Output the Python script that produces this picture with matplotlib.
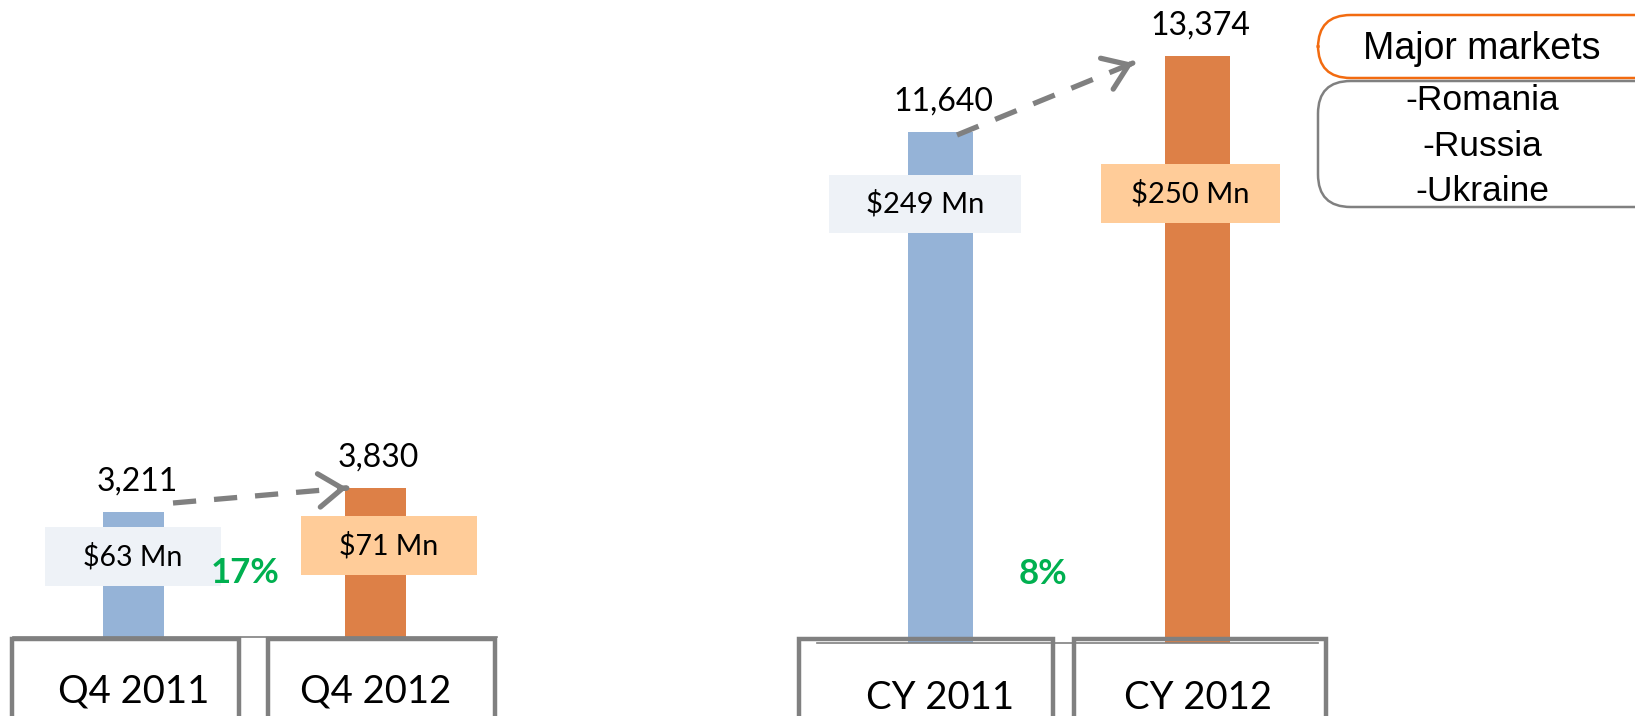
import matplotlib
matplotlib.use("Agg")
import matplotlib.pyplot as plt
from matplotlib.patches import Rectangle, FancyBboxPatch, FancyArrowPatch
from matplotlib.lines import Line2D
from matplotlib.transforms import blended_transform_factory

# ---------------- data ----------------
q_categories = ["Q4 2011", "Q4 2012"]
q_volumes = [3211, 3830]
q_revenue = ["$63 Mn", "$71 Mn"]
q_growth = "17%"

cy_categories = ["CY 2011", "CY 2012"]
cy_volumes = [11640, 13374]
cy_revenue = ["$249 Mn", "$250 Mn"]
cy_growth = "8%"

legend_title = "Major markets"
legend_items = ["-Romania", "-Russia", "-Ukraine"]

# ---------------- style ----------------
W, H = 1635, 716
DPI = 100
BLUE = "#95B3D7"
ORANGE = "#DD8047"
BLUE_BOX = "#EEF2F7"
ORANGE_BOX = "#FFCC99"
GRAY = "#808080"
GREEN = "#00B050"
LEG_ORANGE = "#F26B10"
NUM_FONT = ["Lato", "DejaVu Sans"]
ARIAL = ["Liberation Sans", "DejaVu Sans"]

fig = plt.figure(figsize=(W / DPI, H / DPI), dpi=DPI)


def fx(x):
    return x / W


def fy(y):
    return 1 - y / H


def add_panel(left_px, right_px, base_px, px_per_unit):
    ax = fig.add_axes([fx(left_px), fy(base_px), (right_px - left_px) / W, base_px / H])
    ax.set_xlim(-0.5, 1.5)
    ax.set_ylim(0, base_px / px_per_unit)
    ax.axis("off")
    return ax


ax1 = add_panel(12.5, 496.5, 637, 0.0390)
ax2 = add_panel(812, 1326, 643, 0.0439)


def draw_panel(ax, cats, vals, box_x, box_top_px, label_y_px, thin_line):
    x = list(range(len(cats)))
    ax.bar(x, vals, width=0.25, color=[BLUE, ORANGE], zorder=2)
    for i, v in zip(x, vals):
        ax.annotate(f"{v:,}", (i, v), xytext=(3 if i == 0 and ax is ax1 else 2, 22),
                    textcoords="offset points", ha="center", va="center",
                    fontsize=23, family=NUM_FONT, color="black")
    tr = blended_transform_factory(ax.transData, fig.transFigure)
    if thin_line is not None:
        ax.add_line(Line2D([thin_line[0], thin_line[1]], [0, 0], color=GRAY, lw=1.2,
                           transform=blended_transform_factory(ax.transData, ax.transAxes),
                           clip_on=False, zorder=3))
    for (x0, x1), cat, i in zip(box_x, cats, x):
        r = Rectangle((x0, fy(H + 40)), x1 - x0, fy(box_top_px) - fy(H + 40),
                      transform=tr, fill=False, edgecolor=GRAY, lw=3.2,
                      clip_on=False, zorder=4, joinstyle="miter")
        ax.add_patch(r)
        ax.text(i, fy(label_y_px), cat, transform=tr, ha="center", va="center",
                fontsize=27.5, family=NUM_FONT, color="black")


draw_panel(ax1, q_categories, q_volumes,
           [(-0.502, 0.436), (0.556, 1.494)], 639, 691, (-0.5, 1.5))
draw_panel(ax2, cy_categories, cy_volumes,
           [(-0.55, 0.438), (0.52, 1.5)], 639, 698, (-0.48, 1.47))


# revenue boxes (figure pixel layout)
def rev_box(x0, y0, x1, y1, text, color, fs):
    fig.patches.append(Rectangle((fx(x0), fy(y1)), (x1 - x0) / W, (y1 - y0) / H,
                                 transform=fig.transFigure, facecolor=color,
                                 edgecolor="none", zorder=5))
    fig.text(fx((x0 + x1) / 2), fy((y0 + y1) / 2), text, ha="center", va="center",
             fontsize=fs, family=NUM_FONT, color="black", zorder=6)


rev_box(45, 527, 221, 586, q_revenue[0], BLUE_BOX, 20.5)
rev_box(301, 516, 477, 575, q_revenue[1], ORANGE_BOX, 20.5)
rev_box(829, 175, 1021, 233, cy_revenue[0], BLUE_BOX, 21)
rev_box(1101, 164, 1280, 223, cy_revenue[1], ORANGE_BOX, 21)

# growth labels
fig.text(fx(245), fy(573), q_growth, ha="center", va="center", fontsize=25,
         fontweight="bold", family=NUM_FONT, color=GREEN, zorder=10)
fig.text(fx(1043), fy(574), cy_growth, ha="center", va="center", fontsize=25,
         fontweight="bold", family=NUM_FONT, color=GREEN, zorder=10)


# dashed growth arrows
def growth_arrow(x0, y0, x1, y1):
    lw = 3.8
    fig.add_artist(Line2D([fx(x0), fx(x1)], [fy(y0), fy(y1)], transform=fig.transFigure,
                          color=GRAY, lw=lw, linestyle=(0, (4.4, 3.4)),
                          solid_capstyle="butt", dash_capstyle="butt", zorder=7))
    dx, dy = x1 - x0, y1 - y0
    L = (dx * dx + dy * dy) ** 0.5
    sx, sy = x1 - dx / L * 3, y1 - dy / L * 3
    fig.add_artist(FancyArrowPatch(
        (fx(sx), fy(sy)), (fx(x1), fy(y1)), transform=fig.transFigure,
        arrowstyle="->,head_length=0.85,head_width=0.6", mutation_scale=20,
        color=GRAY, lw=lw, zorder=7, capstyle="round", joinstyle="round"))


growth_arrow(173, 503, 347, 488)
growth_arrow(957, 135, 1133, 63)

# legend boxes
fig.patches.append(FancyBboxPatch((fx(1318), fy(78)), fx(360), (78 - 15) / H,
                                  boxstyle="round,pad=0,rounding_size=0.02",
                                  transform=fig.transFigure, facecolor="white",
                                  edgecolor=LEG_ORANGE, lw=1.8, zorder=8,
                                  mutation_aspect=W / H))
fig.patches.append(FancyBboxPatch((fx(1318), fy(207)), fx(360), (207 - 81) / H,
                                  boxstyle="round,pad=0,rounding_size=0.02",
                                  transform=fig.transFigure, facecolor="white",
                                  edgecolor=GRAY, lw=1.8, zorder=8,
                                  mutation_aspect=W / H))
fig.text(fx(1482), fy(49), legend_title, ha="center", va="center", fontsize=27,
         family=ARIAL, color="black", zorder=9)
fig.text(fx(1482), fy(146), "\n".join(legend_items), ha="center", va="center",
         fontsize=25.5, family=ARIAL, color="black", linespacing=1.47, zorder=9)

fig.savefig("out.png", dpi=DPI)
